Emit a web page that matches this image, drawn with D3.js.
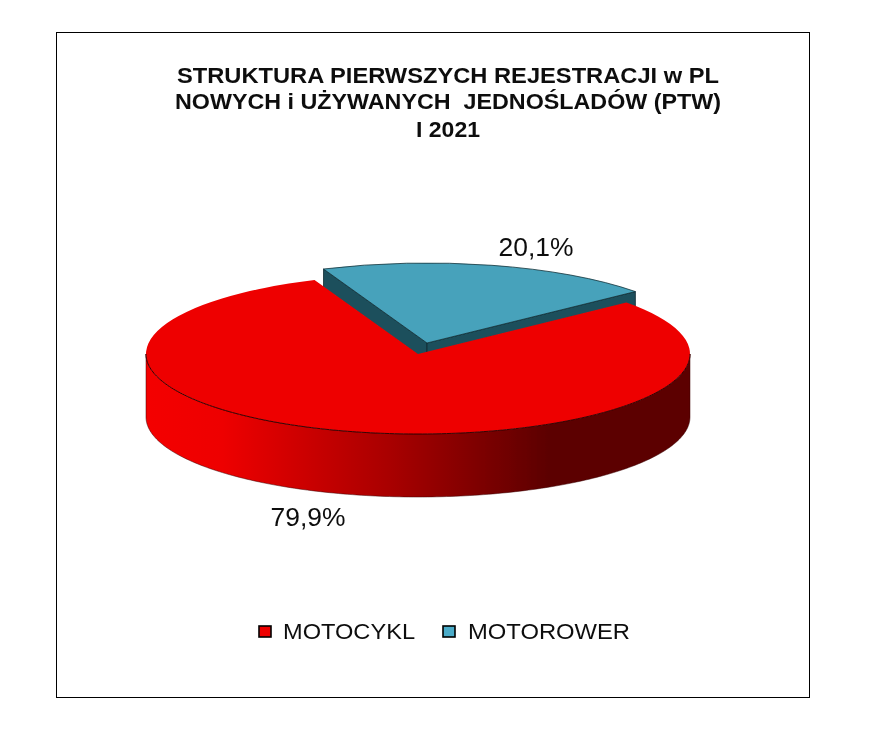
<!DOCTYPE html>
<html><head><meta charset="utf-8">
<script src="https://cdn.jsdelivr.net/npm/d3@7/dist/d3.min.js"></script>
<style>html,body{margin:0;padding:0;background:#fff}svg{display:block}text{font-family:"Liberation Sans",Arial,sans-serif;fill:#111}</style>
</head><body><svg id="c" width="871" height="742"></svg>
<script>
const titleLines = ["STRUKTURA PIERWSZYCH REJESTRACJI w PL", "NOWYCH i UŻYWANYCH  JEDNOŚLADÓW (PTW)", "I 2021"];
const categories = ["MOTOCYKL", "MOTOROWER"];
const values = [79.9, 20.1];
const valueLabels = ["79,9%", "20,1%"];
const topColors = ["#ee0000", "#46a2bb"];
const legendColors = ["#ee0000", "#4bacc9"];

const svg = d3.select("#c");
svg.append("rect").attr("x",56.5).attr("y",32.5).attr("width",753).attr("height",665)
   .attr("fill","#fff").attr("stroke","#000").attr("stroke-width",1);

const defs = svg.append("defs");
defs.append("filter").attr("id","soft").attr("x","-5%").attr("y","-5%").attr("width","110%").attr("height","110%")
   .append("feGaussianBlur").attr("stdDeviation",0.4);

// title
const titleBase = [83, 109, 137], titleWidth = [542, 546, 64];
const title = svg.append("g").attr("filter","url(#soft)");
titleLines.forEach((t,i)=>title.append("text").attr("text-anchor","middle").attr("font-weight","bold")
   .attr("font-size",22).style("white-space","pre")
   .attr("x",448).attr("y",titleBase[i])
   .attr("textLength",titleWidth[i]).attr("lengthAdjust","spacingAndGlyphs").text(t));

// pie
const rx = 272, ry = 80, depth = 63;
const red = {cx:418, cy:354}, blue = {cx:427, cy:343};
const pie = d3.pie().sort(null).value(d=>d)
   .startAngle(50*Math.PI/180).endAngle(410*Math.PI/180);
const arcs = pie(values);
const arcGen = d3.arc().innerRadius(0).outerRadius(rx);
const px = (c,a)=>c.cx + rx*Math.sin(a);
const py = (c,a)=>c.cy - ry*Math.cos(a);

const grad = defs.append("linearGradient").attr("id","side").attr("gradientUnits","userSpaceOnUse")
   .attr("x1",146).attr("x2",690).attr("y1",0).attr("y2",0);
[[0,"#f40000"],[0.14,"#ee0000"],[0.45,"#a80000"],[0.74,"#5c0000"],[1,"#5c0000"]]
   .forEach(([o,c])=>grad.append("stop").attr("offset",o).attr("stop-color",c));

const g = svg.append("g").attr("filter","url(#soft)");
// blue wedge: radial faces, painted first so the red top covers their lower part
const b = arcs[1];
const bFace = a => [[blue.cx,blue.cy],[px(blue,a),py(blue,a)],[px(blue,a),py(blue,a)+depth],[blue.cx,blue.cy+depth]];
const polyLine = d3.line();
[b.startAngle,b.endAngle].forEach(a=>{
  g.append("path").attr("d",polyLine(bFace(a))+"Z").attr("fill","#1f4f5c")
   .attr("stroke","#0d2830").attr("stroke-width",0.8);
});
g.append("path").attr("transform",`translate(${blue.cx},${blue.cy}) scale(1,${ry/rx})`)
   .attr("d",arcGen(b)).attr("fill",topColors[1]).attr("stroke","#15333b")
   .attr("stroke-width",0.8).style("vector-effect","non-scaling-stroke");

// red side wall: the front half of the rim
const angles = d3.range(90,270.01,1).map(d=>d*Math.PI/180);
const side = d3.area().x(a=>px(red,a)).y0(a=>py(red,a)).y1(a=>py(red,a)+depth);
g.append("path").attr("d",side(angles)).attr("fill","url(#side)")
  .attr("stroke","#3a0000").attr("stroke-width",0.5);
// red top
g.append("path").attr("transform",`translate(${red.cx},${red.cy}) scale(1,${ry/rx})`)
   .attr("d",arcGen(arcs[0])).attr("fill",topColors[0]);
// rim line
const rim = d3.line().x(a=>px(red,a)).y(a=>py(red,a));
g.append("path").attr("d",rim(angles)).attr("fill","none").attr("stroke","#3a0000").attr("stroke-width",1);

// value labels
const labelPos = [[308,526],[536,256]];
const labels = svg.append("g").attr("filter","url(#soft)");
valueLabels.forEach((t,i)=>labels.append("text").attr("x",labelPos[i][0]).attr("y",labelPos[i][1])
   .attr("text-anchor","middle").attr("font-size",25).attr("textLength",75).attr("lengthAdjust","spacingAndGlyphs").text(t));

// legend
const legX = [[259,283],[443,468]], legW = [132,162];
const legend = svg.append("g").attr("filter","url(#soft)");
categories.forEach((c,i)=>{
  legend.append("rect").attr("x",legX[i][0]).attr("y",626).attr("width",12).attr("height",11)
     .attr("fill",legendColors[i]).attr("stroke","#000").attr("stroke-width",1.6);
  legend.append("text").attr("x",legX[i][1]).attr("y",639).attr("font-size",22.5)
     .attr("textLength",legW[i]).attr("lengthAdjust","spacingAndGlyphs").text(c);
});
</script></body></html>
